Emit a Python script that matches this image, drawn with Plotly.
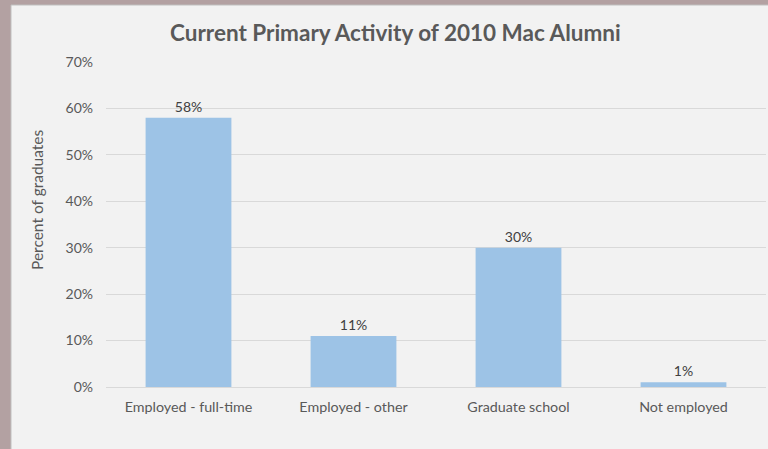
import plotly.graph_objects as go

categories = ["Employed - full-time", "Employed - other", "Graduate school", "Not employed"]
values = [0.58, 0.11, 0.30, 0.01]
value_labels = ["58%", "11%", "30%", "1%"]
tick_vals = [0, 0.1, 0.2, 0.3, 0.4, 0.5, 0.6, 0.7]
tick_text = ["0%", "10%", "20%", "30%", "40%", "50%", "60%", "70%"]

W, H = 768, 449
L, R, T, B = 106, 2, 62, 62
pw, ph = W - L - R, H - T - B

def px(x):
    return (x - L) / pw

def py(y):
    return (H - B - y) / ph

txt = "#595959"
font = "Lato, 'Open Sans', sans-serif"

fig = go.Figure(go.Bar(
    x=categories, y=values,
    marker=dict(color="#9dc3e6", line=dict(width=0)),
    text=value_labels, textposition="outside",
    textfont=dict(color="#404040", size=14, family=font),
    cliponaxis=False, width=0.52,
))

fig.update_layout(
    width=W, height=H,
    margin=dict(l=L, r=R, t=T, b=B),
    paper_bgcolor="#b3a1a2",
    plot_bgcolor="#f2f2f2",
    showlegend=False,
    font=dict(family=font, color=txt, size=14),
    shapes=[dict(type="rect", xref="paper", yref="paper",
                 x0=px(11), x1=px(800), y0=py(470), y1=py(5),
                 fillcolor="#f2f2f2", line=dict(color="#bfbfbf", width=1),
                 layer="below")],
    annotations=[
        dict(text="<b>Current Primary Activity of 2010 Mac Alumni</b>",
             xref="paper", yref="paper", x=px(395), y=py(32),
             showarrow=False, font=dict(size=22.5, color=txt, family=font),
             xanchor="center", yanchor="middle"),
        dict(text="Percent of graduates", textangle=-90,
             xref="paper", yref="paper", x=px(37), y=py(200),
             showarrow=False, font=dict(size=15.5, color=txt, family=font),
             xanchor="center", yanchor="middle"),
    ],
    xaxis=dict(showgrid=False, showline=False, ticks="", zeroline=False,
               ticklabelstandoff=10,
               tickfont=dict(size=14.3, color=txt)),
    yaxis=dict(range=[0, 0.7], tickvals=tick_vals, ticktext=tick_text,
               showgrid=True, gridcolor="#d9d9d9", gridwidth=1,
               zeroline=True, zerolinecolor="#d9d9d9", zerolinewidth=1,
               showline=False, ticks="", ticklen=0,
               ticklabelstandoff=12,
               tickfont=dict(size=14, color=txt)),
    bargap=0.48,
)

fig.write_html("out.html",
               config={"displayModeBar": False},
               post_script="document.body.style.margin='0';document.body.style.overflow='hidden';")
